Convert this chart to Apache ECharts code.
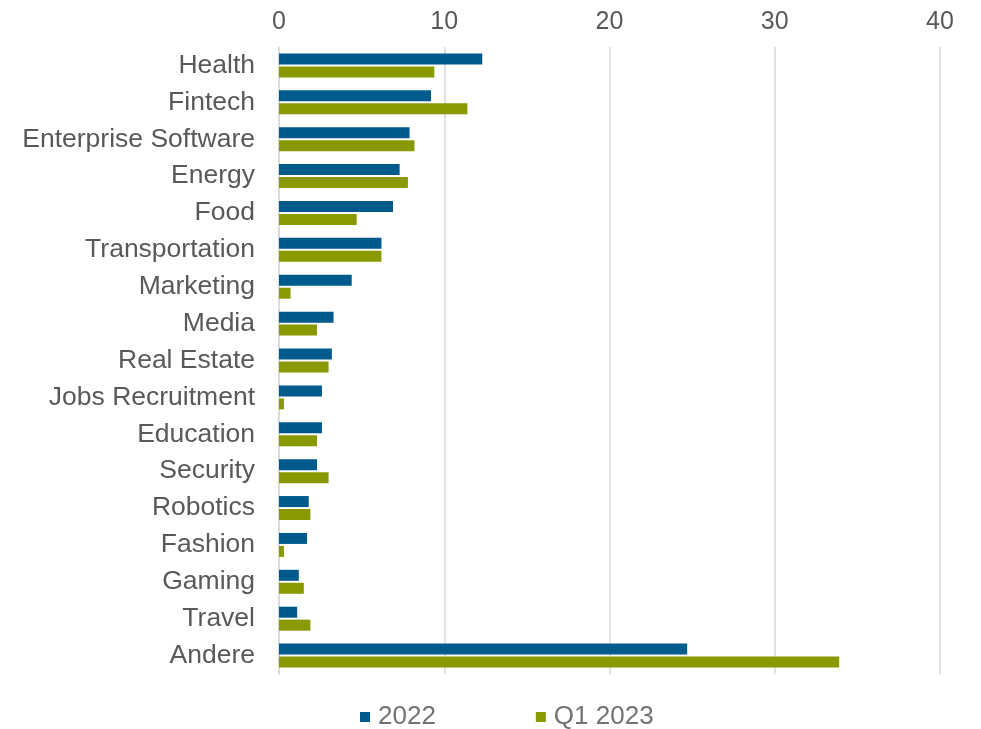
<!DOCTYPE html>
<html>
<head>
<meta charset="utf-8">
<script src="https://cdn.jsdelivr.net/npm/echarts@6/dist/echarts.min.js"></script>
<style>
  html, body { margin: 0; padding: 0; background: #fff; }
  #chart { width: 981px; height: 729px; }
</style>
</head>
<body>
<div id="chart"></div>
<script>
// data
var categories = ['Health', 'Fintech', 'Enterprise Software', 'Energy', 'Food', 'Transportation',
  'Marketing', 'Media', 'Real Estate', 'Jobs Recruitment', 'Education', 'Security',
  'Robotics', 'Fashion', 'Gaming', 'Travel', 'Andere']
var values2022 = [12.3, 9.2, 7.9, 7.3, 6.9, 6.2, 4.4, 3.3, 3.2, 2.6, 2.6, 2.3, 1.8, 1.7, 1.2, 1.1, 24.7]
var valuesQ1 = [9.4, 11.4, 8.2, 7.8, 4.7, 6.2, 0.7, 2.3, 3.0, 0.3, 2.3, 3.0, 1.9, 0.3, 1.5, 1.9, 33.9]
var xTicks = { min: 0, max: 40, interval: 10 }

var chart = echarts.init(document.getElementById('chart'))

var textColor = '#595959'
var font = 'Liberation Sans, Arial, sans-serif'

chart.setOption({
  animation: false,
  textStyle: { fontFamily: font },
  grid: {
    left: 279,
    right: 41,
    top: 47,
    height: 627
  },
  xAxis: {
    type: 'value',
    position: 'top',
    min: xTicks.min,
    max: xTicks.max,
    interval: xTicks.interval,
    axisLine: { show: false },
    axisTick: { show: false },
    splitLine: { lineStyle: { color: '#d9d9d9', width: 1.5 } },
    axisLabel: { color: textColor, fontSize: 25, margin: 12, fontFamily: font }
  },
  yAxis: {
    type: 'category',
    inverse: true,
    data: categories,
    axisLine: { show: true, lineStyle: { color: '#d9d9d9', width: 1.5 } },
    axisTick: { show: false },
    axisLabel: { color: textColor, fontSize: 26.5, margin: 24, fontFamily: font }
  },
  legend: {
    top: 699,
    left: 355,
    itemWidth: 10,
    itemHeight: 10,
    itemGap: 100,
    icon: 'rect',
    textStyle: { color: '#737373', fontSize: 26, fontFamily: font, padding: [0, 0, 0, 3] },
    data: ['2022', 'Q1 2023']
  },
  series: [
    {
      name: '2022',
      type: 'bar',
      data: values2022,
      barWidth: 11,
      barGap: '18%',
      itemStyle: { color: '#005a8b' }
    },
    {
      name: 'Q1 2023',
      type: 'bar',
      data: valuesQ1,
      barWidth: 11,
      barGap: '18%',
      itemStyle: { color: '#889a00' }
    }
  ]
})
</script>
</body>
</html>
